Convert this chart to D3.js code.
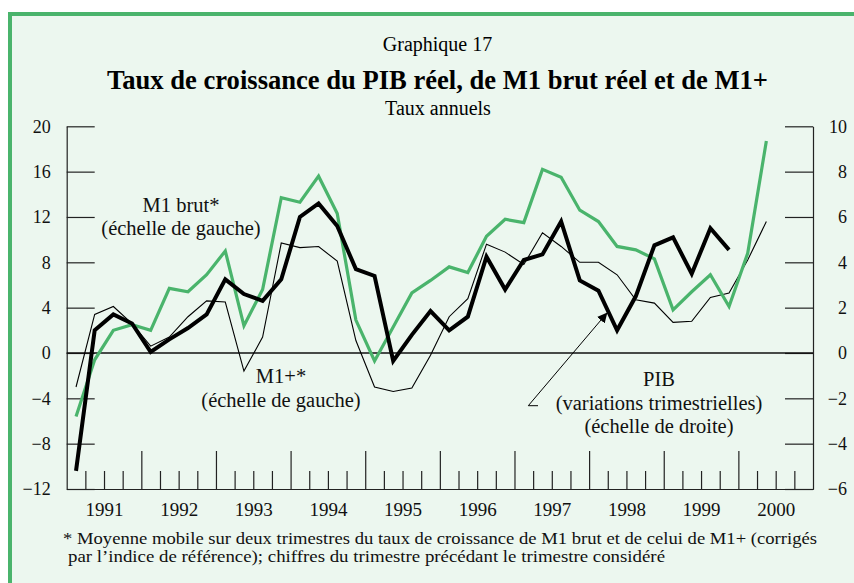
<!DOCTYPE html>
<html>
<head>
<meta charset="utf-8">
<script src="https://cdn.jsdelivr.net/npm/d3@7.9.0/dist/d3.min.js"></script>
<style>
  html, body { margin: 0; padding: 0; background: #fff; }
  svg { display: block; font-family: "Liberation Serif", "Times New Roman", serif; }
</style>
</head>
<body>
<svg id="chart" width="854" height="583"></svg>
<script>
// --- Data (quarterly, first quarter = 1991 T1) ---
const startYear = 1991;
const yearLabels = ['1991', '1992', '1993', '1994', '1995', '1996', '1997', '1998', '1999', '2000'];

// M1 brut* (left scale)
const m1Brut = [-5.6, -0.6, 2.0, 2.5, 2.0, 5.7, 5.4, 6.9, 9.0, 2.4,
  5.6, 13.7, 13.3, 15.6, 12.3, 2.9, -0.7, 2.3, 5.3, 6.4,
  7.6, 7.1, 10.3, 11.8, 11.5, 16.2, 15.5, 12.6, 11.6, 9.4,
  9.1, 8.3, 3.8, 5.4, 6.9, 4.1, 8.8, 18.7];

// M1+* (left scale)
const m1Plus = [-3.0, 3.4, 4.1, 2.6, 0.6, 1.4, 3.2, 4.6, 4.5, -1.6,
  1.4, 9.7, 9.3, 9.4, 8.1, 1.1, -3.0, -3.4, -3.1, -0.2,
  3.2, 4.8, 9.6, 8.9, 7.8, 10.6, 9.4, 8.0, 8.0, 6.9,
  4.7, 4.4, 2.7, 2.8, 4.9, 5.3, 8.2, 11.6];

// PIB, variations trimestrielles (right scale)
const pib = [-5.2, 1.0, 1.7, 1.3, 0.05, 0.6, 1.1, 1.7, 3.25, 2.6,
  2.3, 3.25, 6.0, 6.6, 5.6, 3.7, 3.4, -0.35, 0.8, 1.85,
  1.0, 1.6, 4.25, 2.8, 4.1, 4.35, 5.8, 3.2, 2.75, 1.0,
  2.5, 4.75, 5.1, 3.5, 5.5, 4.55];

const leftTicks = [20, 16, 12, 8, 4, 0, -4, -8, -12];
const rightTicks = [10, 8, 6, 4, 2, 0, -2, -4, -6];

// --- Layout ---
const svg = d3.select('#chart');
const plotL = 66.7, plotR = 813, plotT = 126.3, plotB = 489;
const green = '#4ab46c';

// background frame
svg.append('rect')
  .attr('x', 10).attr('y', 14)
  .attr('width', 900).attr('height', 700)
  .attr('fill', '#ecf7ef')
  .attr('stroke', green)
  .attr('stroke-width', 4);

// --- Scales ---
const x = d3.scaleLinear().domain([startYear, startYear + 10]).range([plotL, plotR]);
const yLeft = d3.scaleLinear().domain([-12, 20]).range([plotB, plotT]);
const yRight = d3.scaleLinear().domain([-6, 10]).range([plotB, plotT]);

const qx = (i) => x(startYear + (i + 0.5) / 4);

// --- Titles ---
svg.append('text')
  .attr('x', 437.5).attr('y', 50.5)
  .attr('text-anchor', 'middle')
  .attr('font-size', 20)
  .text('Graphique 17');

svg.append('text')
  .attr('x', 437.5).attr('y', 89.3)
  .attr('text-anchor', 'middle')
  .attr('font-size', 27)
  .attr('font-weight', 'bold')
  .attr('textLength', 661)
  .attr('lengthAdjust', 'spacingAndGlyphs')
  .text('Taux de croissance du PIB réel, de M1 brut réel et de M1+');

svg.append('text')
  .attr('x', 438).attr('y', 115)
  .attr('text-anchor', 'middle')
  .attr('font-size', 20)
  .text('Taux annuels');

// --- Axes ---
const axisColor = '#222';

svg.append('g')
  .attr('transform', `translate(${plotL},0)`)
  .call(d3.axisLeft(yLeft).tickValues(leftTicks).tickSize(-28).tickSizeOuter(0).tickPadding(16));

const gRight = svg.append('g')
  .attr('transform', `translate(${plotR},0)`)
  .call(d3.axisRight(yRight).tickValues(rightTicks).tickSize(-28).tickSizeOuter(0).tickPadding(34));
gRight.selectAll('text').attr('text-anchor', 'end');

// quarter ticks
const quarterBounds = d3.range(1, 40).filter((k) => k % 4 !== 0).map((k) => startYear + k / 4);
const yearBounds = d3.range(1, 10).map((k) => startYear + k);

svg.append('g')
  .attr('transform', `translate(0,${plotB})`)
  .call(d3.axisBottom(x).tickValues(quarterBounds).tickSize(-18).tickSizeOuter(0).tickFormat(''));

svg.append('g')
  .attr('transform', `translate(0,${plotB})`)
  .call(d3.axisBottom(x).tickValues(yearBounds).tickSize(-38).tickSizeOuter(0).tickFormat(''));

svg.selectAll('.tick text').attr('font-size', 18).attr('font-family', '"Liberation Serif", serif').attr('fill', '#111');

// year labels centred in each year
svg.append('g')
  .attr('transform', `translate(0,${plotB})`)
  .call(d3.axisBottom(x)
    .tickValues(yearLabels.map((d) => +d + 0.5))
    .tickSize(0)
    .tickPadding(14)
    .tickFormat((d) => String(Math.floor(d))))
  .call((g) => g.select('.domain').remove())
  .call((g) => g.selectAll('text').attr('font-size', 19).attr('font-family', '"Liberation Serif", serif').attr('fill', '#111'));

svg.selectAll('.tick line, .domain').attr('stroke', axisColor).attr('stroke-width', 1.2);

// zero line
svg.append('line')
  .attr('x1', plotL).attr('x2', plotR)
  .attr('y1', yLeft(0)).attr('y2', yLeft(0))
  .attr('stroke', '#111').attr('stroke-width', 1.3);

// --- Lines ---
const lineL = d3.line().x((d, i) => qx(i)).y((d) => yLeft(d));
const lineR = d3.line().x((d, i) => qx(i)).y((d) => yRight(d));

svg.append('path')
  .datum(m1Plus)
  .attr('d', lineL)
  .attr('fill', 'none')
  .attr('stroke', '#000')
  .attr('stroke-width', 1.1);

svg.append('path')
  .datum(m1Brut)
  .attr('d', lineL)
  .attr('fill', 'none')
  .attr('stroke', green)
  .attr('stroke-width', 3.2)
  .attr('stroke-linejoin', 'miter');

svg.append('path')
  .datum(pib)
  .attr('d', lineR)
  .attr('fill', 'none')
  .attr('stroke', '#000')
  .attr('stroke-width', 4)
  .attr('stroke-linejoin', 'miter');

// --- Annotations ---
function label(lines, cx, y0, gap) {
  lines.forEach((t, k) => {
    svg.append('text')
      .attr('x', cx).attr('y', y0 + k * gap)
      .attr('text-anchor', 'middle')
      .attr('font-size', 20.5)
      .attr('fill', '#111')
      .text(t);
  });
}
label(['M1 brut*', '(échelle de gauche)'], 181, 211.5, 23.5);
label(['M1+*', '(échelle de gauche)'], 281, 383.3, 23.5);
label(['PIB', '(variations trimestrielles)', '(échelle de droite)'], 659, 386, 23.5);

// arrow toward the PIB line
svg.append('defs').append('marker')
  .attr('id', 'arrow')
  .attr('viewBox', '0 0 10 10')
  .attr('refX', 9).attr('refY', 5)
  .attr('markerWidth', 10).attr('markerHeight', 10)
  .attr('markerUnits', 'userSpaceOnUse')
  .attr('orient', 'auto')
  .append('path')
  .attr('d', 'M0,0 L10,5 L0,10 z')
  .attr('fill', '#000');

svg.append('polyline')
  .attr('points', '538,405.7 528.3,405.7 606.7,313.3')
  .attr('fill', 'none')
  .attr('stroke', '#000')
  .attr('stroke-width', 1)
  .attr('marker-end', 'url(#arrow)');

// --- Footnote ---
svg.append('text')
  .attr('x', 63).attr('y', 544)
  .attr('font-size', 17)
  .attr('fill', '#111')
  .attr('textLength', 754)
  .attr('lengthAdjust', 'spacingAndGlyphs')
  .text('* Moyenne mobile sur deux trimestres du taux de croissance de M1 brut et de celui de M1+ (corrigés');

svg.append('text')
  .attr('x', 68).attr('y', 561.5)
  .attr('font-size', 17)
  .attr('fill', '#111')
  .attr('textLength', 597)
  .attr('lengthAdjust', 'spacingAndGlyphs')
  .text('par l’indice de référence); chiffres du trimestre précédant le trimestre considéré');
</script>
</body>
</html>
